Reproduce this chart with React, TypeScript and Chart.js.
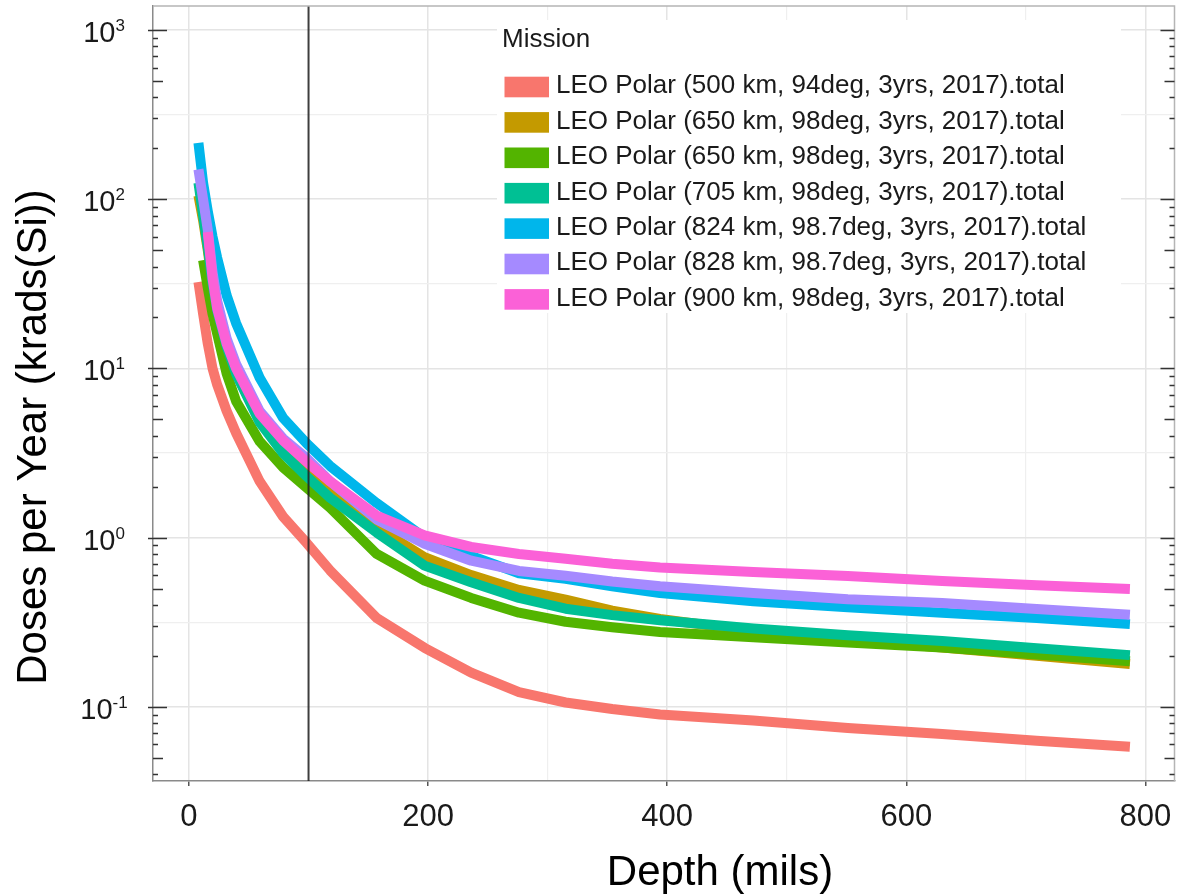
import React, { useEffect, useRef } from "react";
import { Chart, registerables } from "chart.js";

Chart.register(...registerables);

// ---------------- data ----------------
const depths = [7.9, 11.8, 15.7, 19.7, 23.6, 31.5, 39.4, 59.1, 78.7, 98.4, 118, 157, 197, 236, 276, 315, 354, 394, 472, 551, 630, 709, 787];

const seriesLabels = [
  "LEO Polar (500 km, 94deg, 3yrs, 2017).total",
  "LEO Polar (650 km, 98deg, 3yrs, 2017).total",
  "LEO Polar (650 km, 98deg, 3yrs, 2017).total",
  "LEO Polar (705 km, 98deg, 3yrs, 2017).total",
  "LEO Polar (824 km, 98.7deg, 3yrs, 2017).total",
  "LEO Polar (828 km, 98.7deg, 3yrs, 2017).total",
  "LEO Polar (900 km, 98deg, 3yrs, 2017).total",
];

const leo500 = [32.4, 21, 14, 10, 8.0, 5.6, 4.15, 2.15, 1.33, 0.93, 0.64, 0.335, 0.223, 0.159, 0.122, 0.106, 0.097, 0.09, 0.083, 0.075, 0.069, 0.063, 0.058];
const leo650a = [105, 75, 50, 31, 22, 13.6, 9.4, 4.9, 3.25, 2.4, 1.82, 1.15, 0.765, 0.6, 0.49, 0.43, 0.37, 0.33, 0.28, 0.25, 0.224, 0.2, 0.179];
const leo650b = [null, 43.6, 30, 21, 16, 9.3, 6.4, 3.7, 2.6, 1.97, 1.5, 0.8, 0.557, 0.44, 0.36, 0.318, 0.295, 0.277, 0.258, 0.24, 0.224, 0.204, 0.186];
const leo705 = [125, 80, 52, 32, 22, 13.5, 9.3, 4.8, 3.15, 2.3, 1.72, 1.07, 0.683, 0.545, 0.44, 0.38, 0.348, 0.325, 0.29, 0.265, 0.245, 0.222, 0.202];
const leo824 = [215, 125, 85, 60, 45, 27, 18.5, 8.8, 5.1, 3.6, 2.65, 1.6, 1.0, 0.78, 0.615, 0.57, 0.515, 0.47, 0.42, 0.387, 0.36, 0.335, 0.308];
const leo828 = [150, 100, 66, 37, 25, 15, 10.6, 5.6, 3.85, 2.95, 2.15, 1.28, 0.92, 0.73, 0.635, 0.595, 0.55, 0.515, 0.47, 0.432, 0.41, 0.378, 0.35];
const leo900 = [null, null, 64, 34, 22.5, 14, 10, 5.4, 3.75, 2.8, 2.15, 1.35, 1.03, 0.88, 0.8, 0.75, 0.7, 0.665, 0.625, 0.593, 0.553, 0.523, 0.497];

const seriesValues = [leo500, leo650a, leo650b, leo705, leo824, leo828, leo900];
const seriesColors = ["#F8766D", "#C49A00", "#53B400", "#00C094", "#00B6EB", "#A58AFF", "#FB61D7"];

const xTickValues = [0, 100, 200, 300, 400, 500, 600, 700, 800];
const yDecades = [-1, 0, 1, 2, 3];
const referenceDepth = 100;

const legendTitle = "Mission";
const xTitle = "Depth (mils)";
const yTitle = "Doses per Year (krads(Si))";

// ---------------- style ----------------
const FONT = '"Liberation Sans", Arial, Helvetica, sans-serif';
const X_MIN = -30.1;
const X_MAX = 824.3;
const Y_MIN = 0.03642;
const Y_MAX = 1386;

const yGridValues: number[] = [];
for (let e = -2; e <= 3; e += 0.5) {
  const v = Math.pow(10, e);
  if (v >= Y_MIN && v <= Y_MAX) yGridValues.push(v);
}

const isMajorDecade = (v: number) => Math.abs(Math.log10(v) - Math.round(Math.log10(v))) < 1e-6;

const decorPlugin = {
  id: "decor",
  afterDatasetsDraw(chart: any) {
    const { ctx, chartArea, scales } = chart;
    const x = scales.x.getPixelForValue(referenceDepth);
    ctx.save();
    ctx.strokeStyle = "rgba(30,30,30,0.85)";
    ctx.lineWidth = 2;
    ctx.beginPath();
    ctx.moveTo(x, chartArea.top);
    ctx.lineTo(x, chartArea.bottom);
    ctx.stroke();
    ctx.restore();
  },
  afterDraw(chart: any) {
    const { ctx, chartArea, scales } = chart;
    const ys = scales.y;
    ctx.save();
    // top & right frame
    ctx.strokeStyle = "#b5b5b5";
    ctx.lineWidth = 1.5;
    ctx.beginPath();
    ctx.moveTo(chartArea.left, chartArea.top);
    ctx.lineTo(chartArea.right, chartArea.top);
    ctx.lineTo(chartArea.right, chartArea.bottom);
    ctx.stroke();

    // log ticks both sides
    ctx.strokeStyle = "#333";
    ctx.lineWidth = 1.5;
    for (let n = -2; n <= 3; n++) {
      for (let k = 1; k <= 9; k++) {
        const v = k * Math.pow(10, n);
        if (v < Y_MIN || v > Y_MAX) continue;
        const py = Math.round(ys.getPixelForValue(v)) + 0.5;
        const len = k === 1 ? 14 : k === 5 ? 10 : 5;
        ctx.beginPath();
        ctx.moveTo(chartArea.left - (k === 1 ? 5 : 0), py);
        ctx.lineTo(chartArea.left + len, py);
        ctx.moveTo(chartArea.right - len, py);
        ctx.lineTo(chartArea.right, py);
        ctx.stroke();
      }
    }

    // y tick labels 10^n
    ctx.fillStyle = "#1a1a1a";
    ctx.textBaseline = "alphabetic";
    ctx.textAlign = "left";
    for (const n of yDecades) {
      const py = ys.getPixelForValue(Math.pow(10, n));
      const base = "10";
      const sup = String(n);
      ctx.font = `29px ${FONT}`;
      const w1 = ctx.measureText(base).width;
      ctx.font = `17px ${FONT}`;
      const w2 = ctx.measureText(sup).width;
      const x0 = 104 - (w1 + w2) / 2;
      ctx.font = `29px ${FONT}`;
      ctx.fillText(base, x0, py + 12);
      ctx.font = `17px ${FONT}`;
      ctx.fillText(sup, x0 + w1, py + 1);
    }

    // axis titles
    ctx.fillStyle = "#000";
    ctx.font = `42px ${FONT}`;
    ctx.textAlign = "center";
    ctx.fillText(xTitle, 720, 885);
    ctx.save();
    ctx.translate(46, 437);
    ctx.rotate(-Math.PI / 2);
    ctx.fillText(yTitle, 0, 0);
    ctx.restore();

    // legend
    ctx.fillStyle = "#ffffff";
    ctx.fillRect(497, 20, 624, 293);
    ctx.textAlign = "left";
    ctx.fillStyle = "#1a1a1a";
    ctx.font = `26px ${FONT}`;
    ctx.fillText(legendTitle, 502, 46.7);
    chart.data.datasets.forEach((ds: any, i: number) => {
      const cy = 87 + 35.4 * i;
      ctx.fillStyle = ds.borderColor;
      ctx.fillRect(504.5, cy - 10.3, 44.5, 20.6);
      ctx.fillStyle = "#1a1a1a";
      ctx.fillText(ds.label, 556, cy + 6.3);
    });
    ctx.restore();
  },
};

export default function App() {
  const canvasRef = useRef<HTMLCanvasElement | null>(null);

  useEffect(() => {
    const canvas = canvasRef.current;
    if (!canvas) return;
    const datasets = seriesValues.map((vals, i) => ({
      label: seriesLabels[i],
      data: depths
        .map((d, j) => ({ x: d, y: vals[j] }))
        .filter((p) => p.y !== null && p.y !== undefined),
      borderColor: seriesColors[i],
      backgroundColor: seriesColors[i],
      borderWidth: 10,
      pointRadius: 0,
      tension: 0,
      fill: false,
      borderCapStyle: "butt" as const,
      borderJoinStyle: "round" as const,
      order: seriesValues.length - i,
    }));

    const chart = new Chart(canvas, {
      type: "line",
      data: { datasets },
      options: {
        animation: false,
        responsive: false,
        devicePixelRatio: 1,
        layout: { autoPadding: false, padding: { left: 0, right: 3.5, top: 6, bottom: 0 } },
        plugins: { legend: { display: false }, tooltip: { enabled: false } },
        scales: {
          x: {
            type: "linear",
            min: X_MIN,
            max: X_MAX,
            afterBuildTicks: (s: any) => {
              s.ticks = xTickValues.map((v) => ({ value: v }));
            },
            afterFit: (s: any) => {
              s.height = 113;
              s.paddingLeft = 0;
              s.paddingRight = 0;
            },
            ticks: {
              callback: (v: any) => (Number(v) % 200 === 0 ? String(v) : ""),
              font: { family: FONT, size: 31 },
              color: "#1a1a1a",
              padding: 13,
              maxRotation: 0,
              autoSkip: false,
            },
            grid: {
              color: (c: any) => (c.tick && c.tick.value % 200 === 0 ? "#e4e4e4" : "#efefef"),
              lineWidth: (c: any) => (c.tick && c.tick.value % 200 === 0 ? 1.5 : 1.2),
              tickColor: (c: any) => (c.tick && c.tick.value % 200 === 0 ? "#555" : "rgba(0,0,0,0)"),
              tickLength: 5,
              tickWidth: 1.5,
            },
            border: { color: "#8a8a8a", width: 1.5 },
          },
          y: {
            type: "logarithmic",
            min: Y_MIN,
            max: Y_MAX,
            afterBuildTicks: (s: any) => {
              s.ticks = yGridValues.map((v) => ({ value: v }));
            },
            afterFit: (s: any) => {
              s.width = 153;
              s.paddingTop = 0;
              s.paddingBottom = 0;
            },
            ticks: { display: false },
            grid: {
              color: (c: any) => (c.tick && isMajorDecade(c.tick.value) ? "#e4e4e4" : "#efefef"),
              lineWidth: (c: any) => (c.tick && isMajorDecade(c.tick.value) ? 1.5 : 1.2),
              drawTicks: false,
            },
            border: { color: "#8a8a8a", width: 1.5 },
          },
        },
      },
      plugins: [decorPlugin],
    } as any);

    return () => chart.destroy();
  }, []);

  return (
    <div style={{ position: "absolute", left: 0, top: 0, width: 1178, height: 894, background: "#fff" }}>
      <canvas ref={canvasRef} width={1178} height={894} style={{ display: "block" }} />
    </div>
  );
}
